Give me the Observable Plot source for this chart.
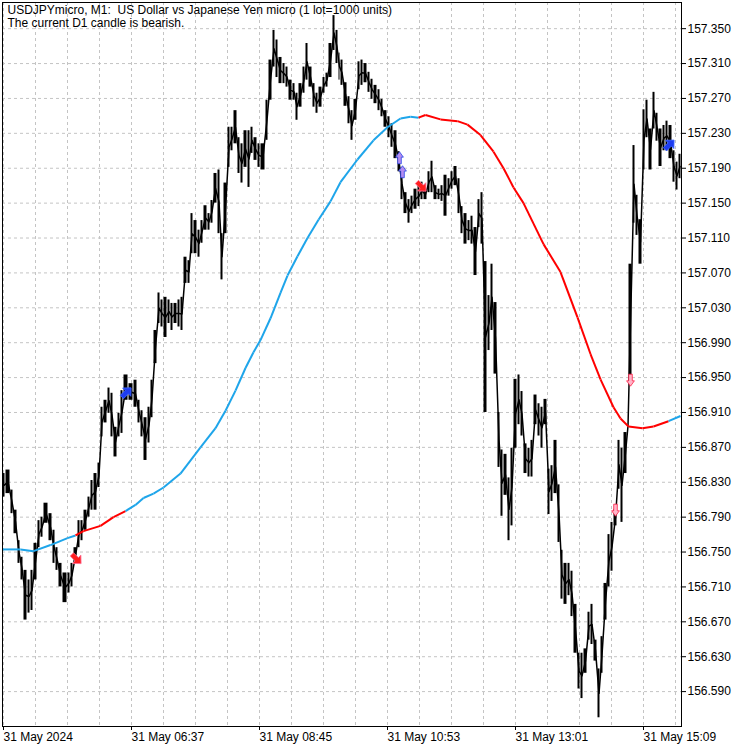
<!DOCTYPE html>
<html><head><meta charset="utf-8">
<script src="https://cdn.jsdelivr.net/npm/d3@7"></script>
<script src="https://cdn.jsdelivr.net/npm/@observablehq/plot@0.6"></script>
<style>
html,body{margin:0;padding:0;background:#fff;}
svg text{white-space:pre;}
</style></head><body><div id="chart"></div>
<script>
const titleLine1 = "USDJPYmicro, M1:  US Dollar vs Japanese Yen micro (1 lot=1000 units)";
const titleLine2 = "The current D1 candle is bearish.";
const sessionStart = "2024-05-31T04:28:00Z";
const sessionMinutes = 679;

// minute bars grouped in short runs (minutes after session start), high and low of each run
const barMinute = [
0,3,8,11,15,18,21,25,28,31,
35,38,41,46,50,53,56,60,65,68,
71,75,78,81,85,88,91,95,98,101,
105,108,111,115,118,121,126,131,135,138,
141,145,148,151,155,158,161,165,168,171,
175,178,181,185,188,191,195,198,201,205,
208,211,215,218,221,225,228,231,235,238,
241,245,248,251,255,258,263,266,270,273,
276,280,283,286,290,293,296,300,303,306,
310,313,316,320,323,326,330,333,336,338,
341,345,348,351,355,358,361,365,368,371,
375,378,381,385,388,391,395,398,401,405,
408,411,415,418,421,425,428,431,435,438,
441,445,448,451,455,458,461,465,468,471,
475,478,481,485,488,491,495,498,501,505,
508,511,515,518,521,525,528,531,535,538,
541,545,548,551,555,558,561,565,568,571,
575,578,581,585,588,591,595,598,601,605,
608,611,615,618,621,625,626,630,633,636,
640,643,646,650,653,656,660,663,666,670,
673,676];
const barHigh = [
156.840,156.844,156.821,156.798,156.763,156.744,156.729,156.718,156.729,156.760,
156.786,156.790,156.806,156.794,156.775,156.755,156.737,156.726,156.726,156.737,
156.755,156.786,156.786,156.798,156.813,156.832,156.840,156.852,156.916,156.924,
156.938,156.932,156.893,156.909,156.935,156.953,156.943,156.947,156.924,156.912,
156.904,156.916,156.947,157.004,157.047,157.039,157.042,157.039,157.035,157.035,
157.039,157.042,157.088,157.084,157.138,157.130,157.119,157.130,157.147,157.138,
157.153,157.184,157.188,157.115,157.173,157.237,157.237,157.256,157.225,157.218,
157.233,157.233,157.237,157.225,157.218,157.218,157.268,157.314,157.348,157.337,
157.317,157.310,157.306,157.291,157.287,157.276,157.287,157.306,157.333,157.306,
157.287,157.276,157.283,157.294,157.299,157.333,157.365,157.348,157.322,157.314,
157.288,157.272,157.256,157.269,157.312,157.314,157.310,157.300,157.292,157.285,
157.280,157.269,157.256,157.249,157.241,157.233,157.209,157.190,157.162,157.154,
157.158,157.166,157.170,157.174,157.166,157.186,157.198,157.170,157.166,157.170,
157.182,157.178,157.186,157.192,157.178,157.146,157.138,157.130,157.135,157.122,
157.154,157.162,157.083,157.044,157.080,157.036,156.910,156.867,156.862,156.835,
156.869,156.948,156.953,156.934,156.874,156.869,156.878,156.930,156.920,156.916,
156.925,156.845,156.849,156.878,156.827,156.752,156.737,156.737,156.728,156.690,
156.634,156.634,156.639,156.681,156.690,156.649,156.616,156.653,156.714,156.770,
156.784,156.799,156.878,156.869,156.887,156.920,157.080,157.216,157.159,157.131,
157.257,157.268,157.235,157.277,157.253,157.235,157.239,157.244,157.239,157.210,
157.197,157.206];
const barLow = [
156.813,156.817,156.794,156.771,156.737,156.718,156.672,156.680,156.683,156.718,
156.755,156.767,156.783,156.763,156.737,156.729,156.710,156.692,156.703,156.710,
156.737,156.755,156.763,156.775,156.790,156.798,156.798,156.824,156.882,156.898,
156.909,156.882,156.859,156.882,156.886,156.924,156.924,156.916,156.898,156.882,
156.855,156.875,156.904,156.966,157.012,157.008,156.996,157.012,157.004,157.012,
157.008,157.004,157.058,157.058,157.092,157.092,157.088,157.104,157.119,157.119,
157.127,157.150,157.115,157.062,157.115,157.191,157.210,157.218,157.184,157.173,
157.191,157.168,157.207,157.199,157.191,157.188,157.222,157.268,157.306,157.294,
157.287,157.287,157.283,157.268,157.268,157.245,157.260,157.276,157.291,157.283,
157.260,157.253,157.260,157.276,157.283,157.294,157.325,157.310,157.291,157.285,
157.261,157.241,157.222,157.245,157.280,157.285,157.288,157.277,157.269,157.264,
157.256,157.249,157.237,157.225,157.214,157.201,157.186,157.154,157.138,157.127,
157.138,157.143,157.146,157.154,157.154,157.162,157.162,157.154,157.154,157.152,
157.135,157.158,157.166,157.170,157.138,157.115,157.103,157.107,157.103,157.067,
157.122,157.103,156.910,156.981,157.004,156.954,156.847,156.791,156.815,156.763,
156.780,156.869,156.896,156.883,156.840,156.836,156.836,156.896,156.883,156.869,
156.896,156.793,156.808,156.817,156.761,156.696,156.690,156.700,156.676,156.634,
156.593,156.582,156.611,156.649,156.644,156.625,156.560,156.611,156.672,156.710,
156.728,156.780,156.822,156.784,156.840,156.869,156.943,157.127,157.113,157.080,
157.188,157.225,157.188,157.235,157.221,157.192,157.210,157.210,157.201,157.174,
157.165,157.178];

// moving average and its state (colour of the segment ending at each point)
const maMinute = [0,18,31,48,65,73,81,98,111,123,
133,141,151,161,178,198,213,223,233,243,
251,258,268,278,285,295,305,316,328,338,
355,371,385,398,408,416,423,438,455,465,
478,491,501,511,521,541,558,575,588,598,
611,618,626,640,651,666,678];
const maValue = [156.753,156.753,156.751,156.758,156.766,156.769,156.774,156.780,156.790,156.797,
156.804,156.812,156.817,156.824,156.840,156.870,156.892,156.912,156.935,156.961,
156.979,156.993,157.018,157.047,157.067,157.089,157.110,157.131,157.152,157.174,
157.200,157.222,157.237,157.247,157.249,157.248,157.251,157.246,157.244,157.240,
157.228,157.209,157.190,157.168,157.150,157.103,157.071,157.019,156.977,156.948,
156.916,156.903,156.894,156.892,156.894,156.900,156.906];
const maState = ["up","up","up","up","up","up","down","down","down","down",
"up","up","up","up","up","up","up","up","up","up",
"up","up","up","up","up","up","up","up","up","up",
"up","up","up","up","up","up","down","down","down","down",
"down","down","down","down","down","down","down","down","down","down",
"down","down","down","down","down","down","up"];

// signal arrows
const signalMinute = [74,124,397,400,419,613,628,667];
const signalPrice = [156.742,156.933,157.202,157.186,157.169,156.798,156.947,157.217];
const signalType = ["sell","buy","buyHollow","buyHollow","sell","sellHollow","sellHollow","buy"];

const yTicks = [156.590,156.630,156.670,156.710,156.750,156.790,156.830,156.870,156.910,156.950,
156.990,157.030,157.070,157.110,157.150,157.190,157.230,157.270,157.310,157.350];
const xTickMinute = [1,129,257,385,513,641];
const xTickLabel = ["31 May 2024","31 May 06:37","31 May 08:45","31 May 10:53","31 May 13:01","31 May 15:09"];

const t0 = Date.parse(sessionStart);
const t = m => new Date(t0 + m * 60000);

const bars = barMinute.map((m, i) => {
  const m2 = i < barMinute.length - 1 ? barMinute[i + 1] : sessionMinutes;
  return {x1: t(m), x2: t(m2), xm: t((m + m2) / 2), lo: barLow[i], hi: barHigh[i], mid: (barLow[i] + barHigh[i]) / 2};
});
const segs = [];
for (let i = 1; i < maMinute.length; i++) {
  segs.push({x1: t(maMinute[i-1]), y1: maValue[i-1], x2: t(maMinute[i]), y2: maValue[i], state: maState[i]});
}
const signals = signalMinute.map((m, i) => ({x: t(m), y: signalPrice[i], type: signalType[i]}));

// thick arrow symbol pointing right (rotated per signal)
const thickArrow = {draw(ctx, size) {
  const s = Math.sqrt(size / Math.PI);
  const P = [[-1,-0.36],[0.05,-0.36],[0.05,-0.9],[1,0],[0.05,0.9],[0.05,0.36],[-1,0.36]];
  ctx.moveTo(P[0][0]*s, P[0][1]*s);
  for (const [a,b] of P.slice(1)) ctx.lineTo(a*s, b*s);
  ctx.closePath();
}};
const hollowArrow = {draw(ctx, size) {
  const s = Math.sqrt(size / Math.PI);
  const P = [[-1,-0.3],[0.1,-0.3],[0.1,-0.65],[1,0],[0.1,0.65],[0.1,0.3],[-1,0.3]];
  ctx.moveTo(P[0][0]*s, P[0][1]*s);
  for (const [a,b] of P.slice(1)) ctx.lineTo(a*s, b*s);
  ctx.closePath();
}};
const sty = {
  sell: {fill: "#ff1e1e", stroke: "#ff6e96", rotate: 45, symbol: thickArrow, r: 6.5},
  buy: {fill: "#1e3cf0", stroke: "#3c64ff", rotate: -45, symbol: thickArrow, r: 6.5},
  buyHollow: {fill: "#b48cf0", stroke: "#2846e6", rotate: -90, symbol: hollowArrow, r: 6},
  sellHollow: {fill: "#ffb4c8", stroke: "#ff1e46", rotate: 90, symbol: hollowArrow, r: 6}
};
const signalMarks = Object.keys(sty).map(k => Plot.dot(signals.filter(d => d.type === k), {
  x: "x", y: "y", symbol: sty[k].symbol, r: sty[k].r, rotate: sty[k].rotate,
  fill: sty[k].fill, stroke: sty[k].stroke, strokeWidth: 0.8
}));

const gridDates = d3.range(1, sessionMinutes, 32).map(t);
const xTickDates = xTickMinute.map(t);
const labelMap = new Map(xTickDates.map((d, i) => [+d, xTickLabel[i]]));

const chart = Plot.plot({
  width: 750, height: 750,
  marginLeft: 2, marginRight: 69, marginTop: 2, marginBottom: 24,
  style: {fontFamily: "'Liberation Sans', Arial, sans-serif", fontSize: "12px", color: "black", background: "white"},
  x: {type: "utc", domain: [t(0), t(sessionMinutes)], label: null},
  y: {domain: [156.550, 157.380], label: null},
  color: {domain: ["up", "down"], range: ["#1ea5ea", "#ff0000"]},
  marks: [
    Plot.gridX(gridDates, {stroke: "#c4c4c4", strokeOpacity: 1, strokeDasharray: "3,3"}),
    Plot.gridY(yTicks, {stroke: "#c4c4c4", strokeOpacity: 1, strokeDasharray: "3,3"}),
    Plot.rect(bars, {x1: "x1", x2: "x2", y1: "lo", y2: "hi", fill: "black", insetLeft: 0.5, insetRight: 0.5}),
    Plot.line(bars, {x: "xm", y: "mid", stroke: "black", strokeWidth: 1.5}),
    Plot.link(segs, {x1: "x1", y1: "y1", x2: "x2", y2: "y2", stroke: "state", strokeWidth: 2}),
    ...signalMarks,
    Plot.frame({stroke: "black", strokeWidth: 1}),
    Plot.axisY(yTicks, {anchor: "right", tickSize: 4, tickPadding: 2, tickFormat: d => d.toFixed(3), label: null}),
    Plot.axisX(xTickDates, {anchor: "bottom", tickSize: 4, tickPadding: 2, textAnchor: "start",
      tickFormat: d => labelMap.get(+d), label: null}),
    Plot.text([titleLine1 + "\n" + titleLine2], {frameAnchor: "top-left", dx: 5, dy: 2,
      lineAnchor: "top", lineHeight: 1.08, fontSize: 12})
  ]
});
document.getElementById("chart").appendChild(chart);
</script>
</body></html>
